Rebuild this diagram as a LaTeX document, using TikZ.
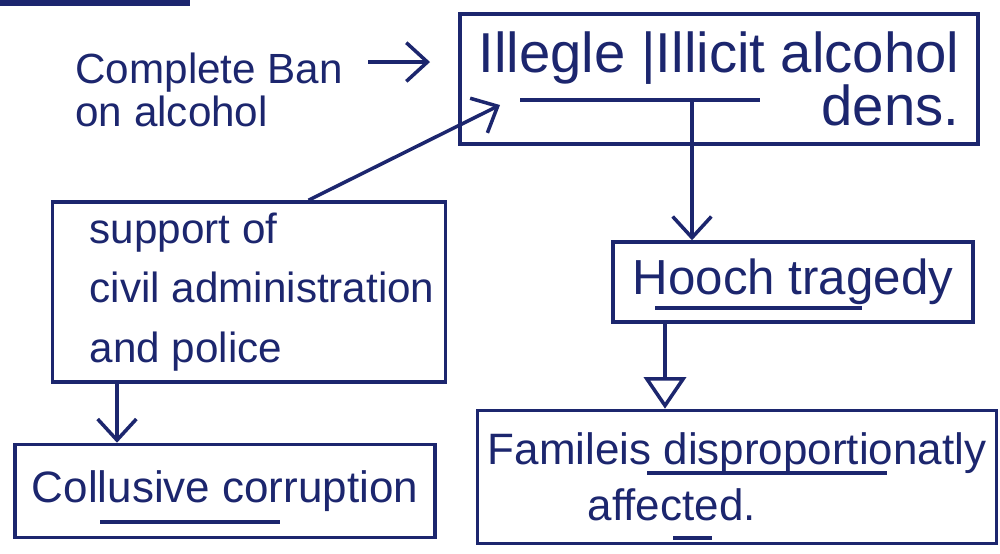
\documentclass[tikz,border=0pt]{standalone}
\usepackage{fontspec}
\setmainfont{Liberation Sans}
\usetikzlibrary{arrows.meta,calc}
\definecolor{ink}{RGB}{28,38,110}
\begin{document}
\begin{tikzpicture}[x=0.01cm,y=-0.01cm,line width=1pt,color=ink,
  box/.style={draw,rectangle,inner sep=0pt,text=ink},
  txt/.style={text=ink},
  arr/.style={-{Straight Barb[length=6pt,width=11pt]}},
  tri/.style={-{Triangle[open,length=9pt,width=12pt]}}]
\useasboundingbox (0,0) rectangle (1000,553);
\fill[white] (0,0) rectangle (1000,553);
% top-left leftover line
\draw[line width=2pt] (0,2) -- (190,2);
% nodes
\node[txt,align=left,anchor=west,font=\fontsize{12}{11}\selectfont] (ban) at (62,90) {Complete Ban\\on alcohol};
\node[box,minimum width=5.18cm,minimum height=1.3cm,align=right,font=\fontsize{16}{15}\selectfont] (illicit) at (719,79) {Illegle |Illicit alcohol\\dens.};
\node[box,minimum width=3.93cm,minimum height=1.8cm] (support) at (249,292) {};
\node[txt,anchor=west,inner sep=0pt,align=left,font=\fontsize{12}{17}\selectfont] (supporttext) at (88,292) {support of\\civil administration\\and police};
\node[box,minimum width=3.6cm,minimum height=0.8cm,font=\fontsize{14}{16}\selectfont] (hooch) at (793,282) {Hooch tragedy};
\node[box,minimum width=5.19cm,minimum height=1.33cm,align=left,font=\fontsize{12.5}{16}\selectfont] (families) at (737,477) {Famileis disproportionatly\\\hspace*{1cm}affected.};
\node[box,minimum width=4.2cm,minimum height=0.93cm,font=\fontsize{12.5}{15}\selectfont] (collusive) at (225,491) {Collusive corruption};
% underlines
\draw (520,100) -- (760,100);
\draw (655,308) -- (862,308);
\draw (647,473) -- (887,473);
\draw (673,538) -- (712,538);
\draw (100,522) -- (280,522);
% connectors
\coordinate (b1) at (368,62);
\coordinate (b2) at (430,62);
\draw[arr] (b1) -- (b2);
\coordinate (u1) at (692,100);
\draw[arr] (u1) -- (u1 |- hooch.north);
\coordinate (h1) at (665,322);
\draw[tri] (h1 |- hooch.south) -- (h1 |- families.north);
\coordinate (s1) at (117,385);
\draw[arr] (s1 |- support.south) -- (s1 |- collusive.north);
\coordinate (tgt) at (500,105);
\draw[arr] ($(support.north west)!0.65!(support.north east)$) -- (tgt);
\end{tikzpicture}
\end{document}
